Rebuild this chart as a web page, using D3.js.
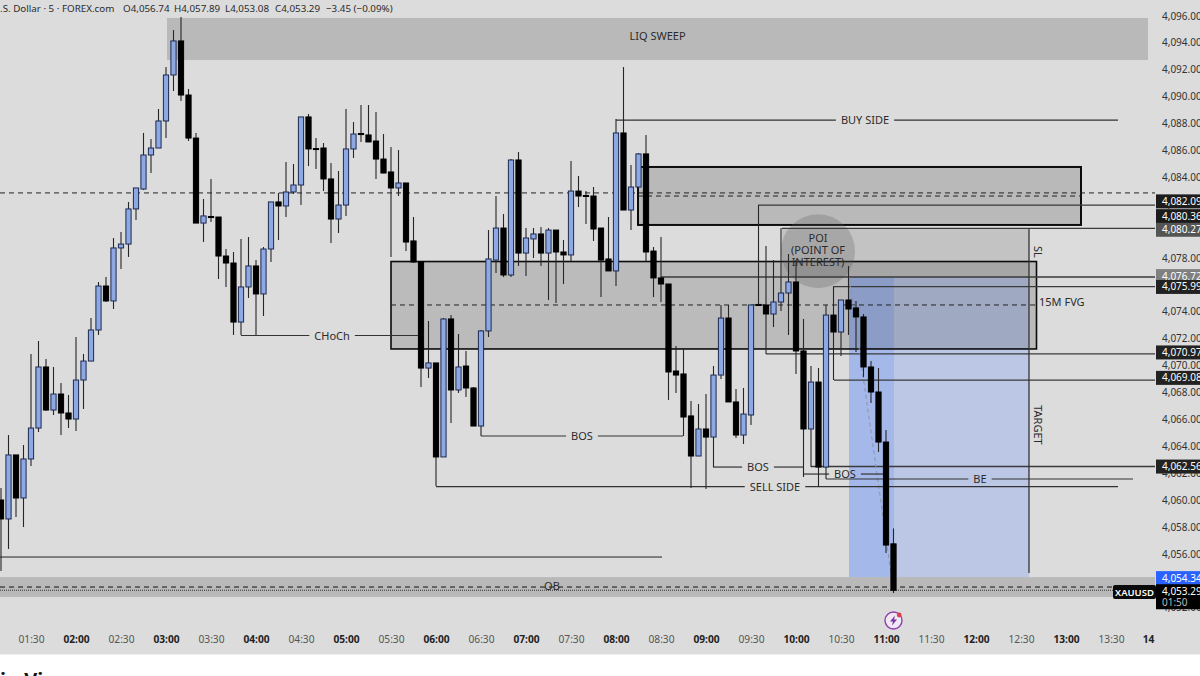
<!DOCTYPE html>
<html>
<head>
<meta charset="utf-8">
<script src="https://cdn.jsdelivr.net/npm/d3@7"></script>
<style>
html, body { margin: 0; padding: 0; background: #fff; overflow: hidden; }
svg { display: block; }
text { font-family: "Noto Sans", sans-serif; fill: #2b2b2b; }
</style>
</head>
<body>
<svg id="chart" width="1200" height="676"></svg>
<script>
// 5 minute candles, first one at 01:10
var firstMinute = 70;
var candleOpen = [4060.00,4058.59,4063.35,4060.15,4063.05,4065.35,4069.89,4066.69,4067.88,4066.47,
  4066.02,4068.92,4070.33,4072.64,4075.91,4074.80,4078.74,4079.03,4081.64,4083.12,
  4085.65,4086.17,4088.18,4091.60,4094.13,4090.11,4086.91,4080.59,4081.08,4081.04,
  4078.14,4077.62,4073.23,4075.84,4077.40,4075.32,4078.66,4082.16,4081.86,4082.90,
  4083.42,4088.48,4086.13,4086.17,4083.87,4080.89,4081.93,4086.10,4087.25,4087.14,
  4086.69,4085.35,4084.39,4083.20,4083.57,4079.26,4077.70,4069.81,4070.19,4063.20,
  4073.46,4068.18,4069.96,4068.33,4065.50,4072.57,4077.84,4080.22,4076.73,4085.28,
  4078.36,4079.41,4079.78,4078.36,4080.07,4078.44,4078.22,4082.97,4082.64,4082.60,
  4080.22,4077.92,4077.03,4087.29,4081.56,4083.27,4085.73,4078.51,4076.51,4076.06,
  4069.59,4069.37,4066.25,4063.27,4065.28,4064.68,4069.29,4073.53,4067.29,4064.83,
  4066.32,4074.54,4074.50,4073.83,4074.72,4075.39,4076.21,4071.08,4065.28,4068.77,
  4062.45,4073.75,4072.49,4074.87,4074.28,4073.61,4069.89,4068.03,4064.31,4056.74];
var candleHigh = [4060.89,4064.83,4063.35,4064.09,4070.86,4071.82,4070.48,4069.89,4068.70,4067.81,
  4072.12,4070.86,4073.53,4076.21,4076.58,4079.48,4079.93,4082.16,4083.20,4087.29,
  4086.84,4089.07,4092.19,4094.94,4095.91,4090.56,4087.29,4082.38,4083.87,4081.04,
  4078.66,4078.44,4079.41,4079.55,4077.84,4078.81,4082.16,4082.83,4085.13,4084.98,
  4088.48,4088.70,4086.91,4086.54,4085.06,4084.46,4089.07,4088.10,4089.37,4089.37,
  4088.85,4087.21,4086.25,4086.02,4083.57,4081.04,4077.70,4073.31,4070.19,4073.53,
  4073.75,4072.34,4071.08,4068.40,4072.64,4080.07,4082.60,4081.26,4085.35,4085.87,
  4080.22,4080.22,4080.30,4080.22,4080.07,4079.33,4085.20,4084.09,4082.97,4083.27,
  4080.22,4081.04,4088.33,4092.19,4084.91,4085.80,4087.14,4078.81,4079.55,4076.06,
  4071.45,4071.23,4067.36,4067.14,4067.88,4069.96,4074.50,4074.50,4068.25,4068.33,
  4074.50,4081.93,4078.88,4077.84,4080.22,4078.29,4077.84,4073.46,4069.96,4069.81,
  4074.50,4075.87,4074.87,4077.40,4074.80,4073.83,4070.33,4069.81,4065.20,4057.89];
var candleLow = [4054.72,4056.36,4058.74,4057.99,4062.53,4065.06,4066.62,4066.32,4064.83,4065.35,
  4065.13,4066.77,4070.33,4072.27,4074.72,4074.20,4077.17,4078.07,4080.82,4083.05,
  4084.31,4086.17,4086.91,4090.41,4089.67,4086.69,4080.59,4079.18,4080.67,4076.43,
  4075.84,4072.27,4072.27,4075.02,4072.27,4073.68,4077.70,4079.33,4081.04,4082.75,
  4081.93,4084.83,4084.61,4082.97,4079.11,4079.85,4081.12,4085.43,4086.62,4086.62,
  4083.87,4084.31,4078.07,4082.60,4078.51,4077.62,4068.40,4069.07,4061.04,4063.20,
  4065.72,4067.96,4067.66,4065.50,4064.76,4072.12,4076.88,4076.58,4076.58,4077.40,
  4076.65,4077.99,4077.40,4074.87,4074.65,4076.06,4077.77,4081.78,4080.52,4079.26,
  4075.09,4077.03,4075.91,4081.56,4080.07,4083.27,4077.77,4075.09,4074.72,4067.44,
  4067.96,4064.76,4060.89,4063.27,4060.82,4062.45,4069.00,4067.29,4064.61,4064.16,
  4065.58,4074.42,4070.86,4072.86,4074.05,4072.27,4069.37,4061.71,4062.45,4060.97,
  4061.56,4068.92,4070.71,4072.27,4071.00,4069.15,4067.21,4063.57,4056.06,4053.08];
var candleClose = [4058.59,4063.35,4060.15,4063.05,4065.35,4069.89,4066.69,4067.88,4066.47,4066.02,
  4068.92,4070.33,4072.64,4075.91,4074.80,4078.74,4079.03,4081.64,4083.20,4085.65,
  4086.17,4088.18,4091.60,4094.13,4090.11,4086.91,4080.59,4081.12,4081.00,4078.14,
  4077.62,4073.23,4075.84,4077.40,4075.32,4078.66,4082.16,4081.86,4082.90,4083.42,
  4088.48,4086.10,4086.06,4083.87,4080.89,4081.93,4086.10,4087.21,4087.17,4086.62,
  4085.35,4084.31,4083.20,4083.57,4079.18,4077.70,4069.81,4070.19,4063.20,4073.46,
  4068.18,4069.89,4068.33,4065.50,4072.57,4077.92,4080.22,4076.73,4085.28,4078.36,
  4079.48,4079.78,4078.36,4080.07,4078.44,4078.22,4082.97,4082.60,4082.57,4080.15,
  4077.84,4077.03,4087.29,4081.56,4083.27,4085.73,4078.44,4076.51,4076.06,4069.52,
  4069.29,4066.17,4063.27,4065.28,4064.68,4069.29,4073.53,4067.29,4064.83,4066.39,
  4074.50,4074.46,4073.83,4074.72,4075.39,4076.21,4071.08,4065.28,4068.77,4062.45,
  4073.75,4072.49,4074.87,4074.20,4073.61,4069.89,4068.03,4064.31,4056.65,4053.29];

var priceTicks = [4052,4054,4056,4058,4060,4062,4064,4066,4068,4070,4072,4074,4076,4078,4080,4082,4084,4086,4088,4090,4092,4094,4096];
var timeTicks = [90,120,150,180,210,240,270,300,330,360,390,420,450,480,510,540,570,600,630,660,690,720,750,780,810,834.67];
var timeLabels = ["01:30","02:00","02:30","03:00","03:30","04:00","04:30","05:00","05:30","06:00","06:30","07:00","07:30","08:00","08:30","09:00","09:30","10:00","10:30","11:00","11:30","12:00","12:30","13:00","13:30","14"];

// labelled lines: price level, start and end minute, label minute
var lineNames = ["CHoCh","BOS","SELL SIDE","BOS","BOS","BE","BUY SIDE"];
var linePrices = [4072.23,4064.76,4061.00,4062.45,4061.93,4061.56,4088.25];
var lineFrom = [230,390,360,544.67,604.67,620,480];
var lineTo = [350,524.67,814.67,604.67,660,824.67,814.67];
var lineLabelAt = [290.7,457.33,586,574.67,632.67,722.67,646];

// rays running into the price scale, and the tag each one carries
var rayPrices = [4081.93,4080.19,4076.58,4075.87,4070.86,4068.92,4062.49];
var rayFrom = [574.67,590.67,510,624.67,580,625.33,610];
var tagValues = [4082.09,4080.36,4080.27,4076.72,4075.99,4070.97,4069.08,4062.56,4054.34,4053.29];

// zones: [from minute, to minute, top price, bottom price]
var liqZone = [180.67,834.67,4095.84,4092.71];
var upperZone = [494.67,790,4084.76,4080.45];
var fvgZone = [330,760.33,4077.73,4071.23];
var slZone = [590.67,755.33,4080.19,4076.58];
var targetZone = [635.33,755.33,4076.58,4054.27];
var activeZone = [635.33,665.33,4076.58,4054.27];
var obZone = [69.33,839.33,4054.27,4052.79];

var dashedLevel = 4082.83;
var fvgMid = 4074.50;
var upperMid = 4082.60;
var obDash = 4053.53;
var closeLevel = 4053.29;
var lowLine = [69.33,510.67,4055.76];
var poiCenter = [614.67,4078.5];

var svg = d3.select("#chart");
var x = d3.scaleLinear().domain([120, 660]).range([76, 886]);
var y = d3.scaleLinear().domain([4060, 4084]).range([500, 177.2]);
var plotRight = 1155;

svg.append("rect").attr("width", 1200).attr("height", 654.5).attr("fill", "#dcdcdc");
svg.append("text").attr("x", 0).attr("y", 687).text("in View")
  .style("font-size", "20px").style("font-weight", "bold").style("fill", "#111");

function zone(z, fill, stroke, sw) {
  svg.append("rect")
    .attr("x", x(z[0])).attr("y", y(z[2]))
    .attr("width", x(z[1]) - x(z[0])).attr("height", y(z[3]) - y(z[2]))
    .attr("fill", fill)
    .attr("stroke", stroke || "none").attr("stroke-width", sw || 0);
}
function hline(x1, x2, price, color, sw, dash) {
  svg.append("line")
    .attr("x1", x1).attr("x2", x2).attr("y1", y(price)).attr("y2", y(price))
    .attr("stroke", color).attr("stroke-width", sw)
    .attr("stroke-dasharray", dash || null);
}

// zones under the candles
zone(liqZone, "rgba(0,0,0,0.155)");
zone(obZone, "rgba(0,0,0,0.155)");
zone(slZone, "rgba(0,0,0,0.11)");
zone(targetZone, "rgba(113,153,247,0.3)");
zone(activeZone, "rgba(113,153,247,0.3)");
zone(upperZone, "rgba(0,0,0,0.155)", "#0c0c0c", 2);
zone(fvgZone, "rgba(0,0,0,0.15)", "#0c0c0c", 1.6);

hline(0, plotRight, dashedLevel, "#222", 1, "5 4");
hline(x(upperZone[0]), x(upperZone[1]), upperMid, "#222", 1, "5 4");
hline(x(fvgZone[0]), x(fvgZone[1]), fvgMid, "#222", 1, "5 4");
hline(0, 1113, obDash, "#111", 1, "5 4");
hline(0, 1113, closeLevel, "#333", 1, "1 1");
hline(x(lowLine[0]), x(lowLine[1]), lowLine[2], "#222", 1);

// POI circle
svg.append("circle")
  .attr("cx", x(poiCenter[0])).attr("cy", y(poiCenter[1])).attr("r", 37)
  .attr("fill", "rgba(90,90,90,0.26)");

// rays
rayPrices.forEach(function(p, i) {
  hline(x(rayFrom[i]), plotRight, p, "#3a3a3a", 1.3);
});
// position tool edge + stop line
svg.append("line")
  .attr("x1", x(slZone[1])).attr("x2", x(slZone[1]))
  .attr("y1", y(slZone[2])).attr("y2", y(targetZone[3]) - 4)
  .attr("stroke", "#333").attr("stroke-width", 1.3);
svg.append("line")
  .attr("x1", x(targetZone[0])).attr("y1", y(targetZone[2]))
  .attr("x2", x(660 + 5)).attr("y2", y(closeLevel))
  .attr("stroke", "#8f93a6").attr("stroke-width", 1).attr("stroke-dasharray", "4 3");

// labelled lines, the line breaks around its text
lineNames.forEach(function(name, i) {
  var lx = x(lineLabelAt[i]);
  var t = svg.append("text").attr("x", lx).attr("y", y(linePrices[i]) + 4)
    .attr("text-anchor", "middle").style("font-size", "11px").text(name);
  var half = t.node().getComputedTextLength() / 2 + 5;
  hline(x(lineFrom[i]), lx - half, linePrices[i], "#333", 1.2);
  hline(lx + half, x(lineTo[i]), linePrices[i], "#333", 1.2);
});

// candles
var candles = candleOpen.map(function(o, i) {
  return { t: firstMinute + i * 5, o: o, h: candleHigh[i], l: candleLow[i], c: candleClose[i] };
});
var cg = svg.append("g");
cg.selectAll(".wick").data(candles).enter().append("line")
  .attr("class", "wick")
  .attr("x1", function(d) { return x(d.t); }).attr("x2", function(d) { return x(d.t); })
  .attr("y1", function(d) { return y(d.h); }).attr("y2", function(d) { return y(d.l); })
  .attr("stroke", "#262626").attr("stroke-width", 1.1);
cg.selectAll(".body").data(candles).enter().append("rect")
  .attr("class", "body")
  .attr("x", function(d) { return x(d.t) - 2.6; })
  .attr("width", 5.2)
  .attr("y", function(d) { return y(Math.max(d.o, d.c)); })
  .attr("height", function(d) { return Math.max(1, Math.abs(y(d.o) - y(d.c))); })
  .attr("fill", function(d) { return d.c >= d.o ? "#8da8e2" : "#000"; })
  .attr("stroke", function(d) { return d.c >= d.o ? "#1d2a52" : "#000"; })
  .attr("stroke-width", 1);

// free text on the drawing
function note(px, py, s, size, anchor) {
  return svg.append("text").attr("x", px).attr("y", py).attr("text-anchor", anchor || "middle")
    .style("font-size", (size || 11) + "px").text(s);
}
note(x((liqZone[0] + liqZone[1]) / 2), y(4094.2), "LIQ SWEEP");
note(x(poiCenter[0]), y(4079.18), "POI");
note(x(poiCenter[0]), y(4078.29), "(POINT OF");
note(x(poiCenter[0]), y(4077.40), "INTEREST)");
note(x(762), y(fvgMid) + 1, "15M FVG", 11, "start");
svg.append("text").attr("transform", "translate(" + x(758.67) + "," + y(4078.44) + ") rotate(90)")
  .attr("text-anchor", "middle").style("font-size", "11px").text("SL");
svg.append("text").attr("transform", "translate(" + x(758.67) + "," + y(4065.58) + ") rotate(90)")
  .attr("text-anchor", "middle").style("font-size", "11px").text("TARGET");
note(x(437.33), y(obDash) + 3, "OB");

// axes
var yAxis = d3.axisRight(y).tickValues(priceTicks).tickSize(0).tickPadding(0)
  .tickFormat(d3.format(",.2f"));
var gy = svg.append("g").attr("transform", "translate(1162,0)").call(yAxis);
gy.select(".domain").remove();
gy.selectAll("text").style("font-size", "10px").style("font-family", '"Noto Sans", sans-serif').style("fill", "#333");

var xAxis = d3.axisBottom(x).tickValues(timeTicks).tickSize(0).tickPadding(0)
  .tickFormat(function(d, i) { return timeLabels[i]; });
var gx = svg.append("g").attr("transform", "translate(0,636)").call(xAxis);
gx.select(".domain").remove();
gx.selectAll("text")
  .style("font-size", "10.2px").style("font-family", '"Noto Sans", sans-serif')
  .style("font-weight", function(d, i) { return timeLabels[i].slice(-2) == "00" || timeLabels[i] == "14" ? "bold" : "normal"; })
  .style("fill", function(d, i) { return timeLabels[i].slice(-2) == "00" || timeLabels[i] == "14" ? "#222" : "#555"; });

// price tags, some are pushed to clear each other
var tagFill = ["#1c1c1c","#1c1c1c","#555","#808080","#222","#222","#222","#222","#2962ff","#000"];
var tagShift = [-1.5,-10,2.4,1,2,0,0,1,2,0];
var fmt = d3.format(",.2f");
tagValues.forEach(function(v, i) {
  var cy = y(v) + tagShift[i];
  var last = i == tagValues.length - 1;
  var top = last ? y(v) - 6 : cy - 7;
  svg.append("rect").attr("x", 1156).attr("y", top).attr("width", 44).attr("height", last ? 25 : 14)
    .attr("fill", tagFill[i]);
  svg.append("text").attr("x", 1162).attr("y", top + 10.5).text(fmt(v))
    .style("font-size", "10px").style("fill", "#fff");
});
note(1162, y(closeLevel) + 16, "01:50", 10, "start").style("fill", "#bbb");

svg.append("rect").attr("x", 1113).attr("y", 585).attr("width", 43).attr("height", 14).attr("rx", 2).attr("fill", "#0a0a0a");
note(1134.5, 595.5, "XAUUSD", 9.5).style("fill", "#fff").style("font-weight", "600");

// header
var header = [".S. Dollar \u00b7 5 \u00b7 FOREX.com", "O4,056.74", "H4,057.89", "L4,053.08", "C4,053.29", "\u22123.45 (\u22120.09%)"];
var headerX = [0, 123, 174, 225, 275, 326];
header.forEach(function(s, i) { note(headerX[i], 12, s, 9.8, "start"); });

// replay badge under the last candle
var bx = x(665), by = 620.5;
svg.append("circle").attr("cx", bx).attr("cy", by).attr("r", 8.5).attr("fill", "#f0e8f4").attr("stroke", "#8e3fae").attr("stroke-width", 1.4);
svg.append("path").attr("transform", "translate(" + bx + "," + by + ")")
  .attr("d", "M1.5,-5 L-3.5,1 L-0.5,1 L-1.5,5 L3.5,-1 L0.5,-1 Z").attr("fill", "#7d35a0");
svg.append("circle").attr("cx", bx + 5.7).attr("cy", by - 5.5).attr("r", 2.4).attr("fill", "#e23c4f");
</script>
</body>
</html>
